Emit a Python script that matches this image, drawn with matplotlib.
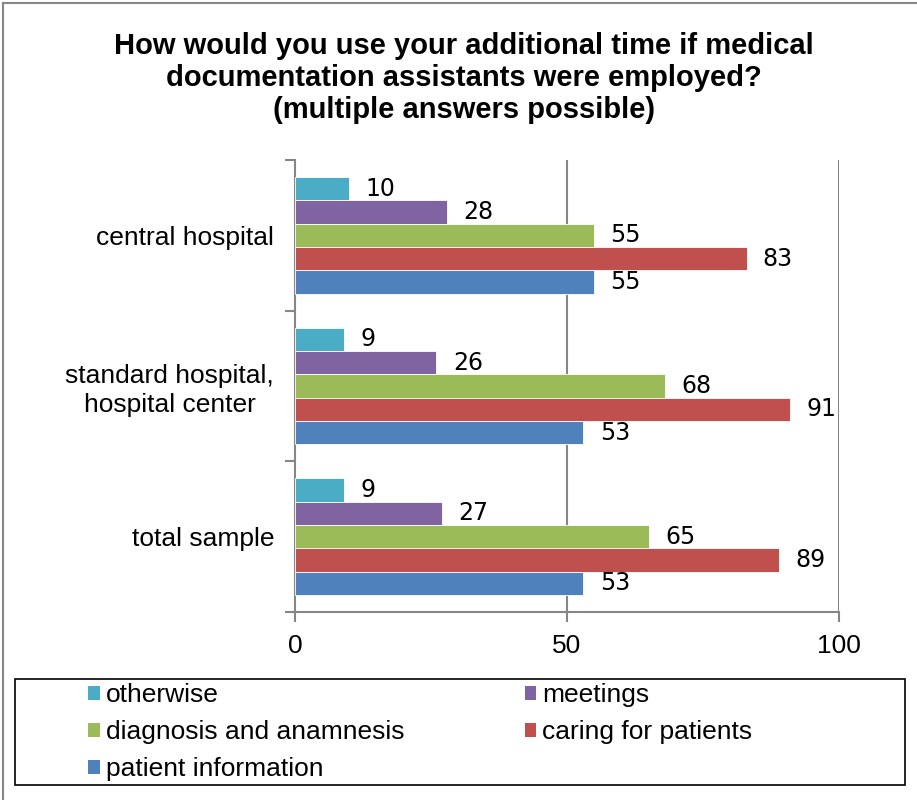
import matplotlib
matplotlib.use("Agg")
import matplotlib.pyplot as plt
import numpy as np
from matplotlib.lines import Line2D
from matplotlib.patches import Patch, Rectangle

categories = ["central hospital", "standard hospital,\nhospital center", "total sample"]
series_names = ["otherwise", "meetings", "diagnosis and anamnesis",
                "caring for patients", "patient information"]
otherwise = [10, 9, 9]
meetings = [28, 26, 27]
diagnosis = [55, 68, 65]
caring = [83, 91, 89]
patient_info = [55, 53, 53]
x_ticks = [0, 50, 100]

colors = ["#4BACC6", "#8064A2", "#9BBB59", "#C0504D", "#4F81BD"]
series = [otherwise, meetings, diagnosis, caring, patient_info]

plt.rcParams["font.family"] = ["Liberation Sans", "DejaVu Sans"]

W, H = 917, 800
fig = plt.figure(figsize=(W / 100, H / 100), dpi=100)
ax = fig.add_axes([295 / W, 1 - 612 / H, (839 - 295) / W, (612 - 160) / H])

bar_h = 0.1547
n = len(series)
y = np.arange(len(categories))
for i, (vals, col) in enumerate(zip(series, colors)):
    offs = (i - (n - 1) / 2) * bar_h
    ax.barh(y + offs, vals, height=bar_h, color=col, edgecolor="white",
            linewidth=0.6, zorder=3)
    for yy, v in zip(y + offs, vals):
        ax.text(v + 3.0, yy, f"{v}", va="center", ha="left", fontsize=17,
                family="DejaVu Sans", color="black", zorder=4)

ax.set_xlim(0, 100)
ax.set_ylim(2.5, -0.5)

grey = "#868686"
for s in ["top", "right"]:
    ax.spines[s].set_visible(False)
for s in ["left", "bottom"]:
    ax.spines[s].set_color(grey)
    ax.spines[s].set_linewidth(1.5)

ax.set_xticks(x_ticks)
ax.set_xticklabels([str(t) for t in x_ticks], fontsize=19)
ax.tick_params(axis="x", length=7, width=1.5, color=grey, pad=9)
for gx in x_ticks[1:]:
    ax.axvline(gx, color=grey, linewidth=1.5, zorder=1)

ax.set_yticks([-0.5, 0.5, 1.5, 2.5])
ax.set_yticklabels([])
ax.tick_params(axis="y", which="major", length=7, width=1.5, color=grey)
ax.set_yticks(y, minor=True)
ax.set_yticklabels(categories, minor=True, fontsize=19, multialignment="center",
                   linespacing=1.25)
ax.tick_params(axis="y", which="minor", length=0, pad=15)

fig.text(464 / W, 1 - 78 / H,
         "How would you use your additional time if medical\n"
         "documentation assistants were employed?\n"
         "(multiple answers possible)",
         ha="center", va="center", fontsize=21, fontweight="bold",
         linespacing=1.17)

# outer chart frame
fig.add_artist(Line2D([3 / W, 3 / W], [0, 1 - 3 / H], color=grey, linewidth=1.5))
fig.add_artist(Line2D([3 / W, 1], [1 - 3 / H, 1 - 3 / H], color=grey, linewidth=1.5))

# legend box
fig.add_artist(Rectangle((15 / W, 1 - 785 / H), (905 - 15) / W, (785 - 679) / H,
                         transform=fig.transFigure, facecolor="white",
                         edgecolor="black", linewidth=1.2))

order = [0, 2, 4, 1, 3]
handles = [Patch(facecolor=colors[k], edgecolor="none") for k in order]
labels = [series_names[k] for k in order]
leg = fig.legend(handles, labels, loc="upper left",
                 bbox_to_anchor=(70 / W, 1 - 665 / H), ncol=2,
                 fontsize=19, frameon=False,
                 handlelength=0.42, handleheight=0.42, handletextpad=0.25,
                 columnspacing=4.55, borderpad=0.2, labelspacing=0.49)

fig.savefig("out.png", dpi=100)
